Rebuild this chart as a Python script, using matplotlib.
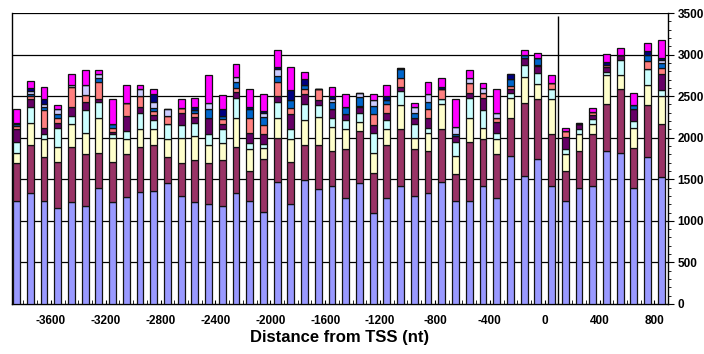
import matplotlib
matplotlib.use("Agg")
import matplotlib.pyplot as plt
import numpy as np
from matplotlib.ticker import MultipleLocator, FixedLocator

# 100-nt bins, centre positions (distance from TSS, nt)
bin_centers = np.arange(-3850, 851, 100)

s1 = [1240,1340,1240,1160,1225,1180,1400,1225,1285,1350,
      1355,1455,1295,1225,1205,1180,1340,1240,1110,1465,
      1205,1495,1385,1420,1275,1455,1090,1275,1420,1300,
      1340,1465,1240,1240,1420,1275,1775,1535,1745,1420,
      1240,1400,1420,1835,1815,1400,1765,1525]
s2 = [455,575,525,545,660,625,415,480,520,535,
      560,315,400,510,490,555,545,355,630,530,
      500,420,530,415,595,620,490,640,685,565,
      495,645,325,705,560,530,460,885,720,620,
      355,435,620,565,765,480,630,645]
s3 = [120,260,215,180,275,255,420,290,175,225,
      190,210,300,280,220,200,355,275,140,240,
      275,300,340,290,235,120,240,190,290,135,
      220,290,210,290,140,180,240,310,185,420,
      210,210,120,355,170,240,240,335]
s4 = [135,190,60,235,100,275,190,50,100,190,
      110,180,160,160,130,170,235,70,50,195,
      125,195,140,115,105,100,235,110,170,165,
      60,70,175,240,215,70,60,150,130,120,
      65,65,70,30,180,85,195,70]
s5 = [155,95,80,55,110,100,40,25,180,70,
      60,0,140,70,195,55,70,120,115,75,
      175,120,60,100,75,70,100,80,40,70,
      120,0,70,60,140,140,50,80,80,0,
      140,50,40,60,70,135,0,195]
s6 = [40,40,215,60,240,80,200,50,160,130,
      50,100,60,50,0,60,50,180,110,160,
      80,50,130,0,0,20,130,115,110,0,
      110,110,0,120,60,40,40,0,20,75,
      70,0,40,30,0,0,95,70]
s7 = [15,30,30,50,0,0,50,40,0,0,
      30,0,0,40,100,40,80,100,90,80,
      95,60,0,90,80,110,95,45,110,60,
      80,0,30,0,0,0,80,40,80,0,
      0,0,0,0,0,55,70,60]
s8 = [10,30,40,55,30,120,50,0,0,80,
      70,80,0,0,75,0,50,0,50,80,
      0,0,0,30,0,40,75,0,0,70,
      95,0,80,60,60,60,0,0,0,0,
      0,0,0,0,0,0,0,30]
s9 = [10,40,55,10,0,0,0,0,0,0,
      105,0,0,30,0,80,0,30,30,25,
      120,70,0,40,0,0,0,50,10,0,
      0,30,0,0,0,0,65,0,0,0,
      0,20,0,30,0,0,50,30]
s10 = [170,80,145,45,130,180,50,310,220,60,
       60,0,110,110,340,170,160,220,200,210,
       275,80,0,110,160,0,70,130,0,50,
       155,110,340,100,60,295,0,60,60,100,
       40,0,50,100,80,140,90,215]

series = [s1, s2, s3, s4, s5, s6, s7, s8, s9, s10]
colors = ['#9999FF', '#993366', '#FFFFCC', '#CCFFFF', '#660066',
          '#FF8080', '#0066CC', '#CCCCFF', '#000080', '#FF00FF']

xtick_values = [-3600, -3200, -2800, -2400, -2000, -1600, -1200,
                -800, -400, 0, 400, 800]
ytick_values = [0, 500, 1000, 1500, 2000, 2500, 3000, 3500]
marker_pos = 100  # vertical reference line

tick_font = ['Liberation Sans Narrow', 'Liberation Sans', 'DejaVu Sans']
label_font = ['Liberation Sans', 'DejaVu Sans']

fig = plt.figure(figsize=(7.04, 3.54), dpi=100)
ax = fig.add_axes([12/704, 50/354, (668-12)/704, (304-13)/354])

bottom = np.zeros(len(bin_centers))
for vals, col in zip(series, colors):
    v = np.array(vals, dtype=float)
    ax.bar(bin_centers, v, width=50, bottom=bottom, color=col,
           edgecolor='#111111', linewidth=0.9, zorder=3)
    bottom += v

ax.vlines(marker_pos, 0, 3460, color='black', linewidth=1.0, zorder=4)

ax.set_xlim(-3883, 899)
ax.set_ylim(0, 3500)

for yv in ytick_values[1:]:
    ax.axhline(yv, color='black', linewidth=0.9, zorder=1)

ax.spines['top'].set_visible(False)
for sp in ['left', 'right', 'bottom']:
    ax.spines[sp].set_color('black')
    ax.spines[sp].set_linewidth(1.0)

ax.yaxis.tick_right()
ax.yaxis.set_major_locator(FixedLocator(ytick_values))
ax.yaxis.set_minor_locator(MultipleLocator(100))
ax.tick_params(axis='y', which='major', direction='out', length=4, width=0.8, pad=3)
ax.tick_params(axis='y', which='minor', direction='out', length=2, width=0.6)
ax.tick_params(axis='y', left=False, which='both')

ax.xaxis.set_major_locator(FixedLocator(xtick_values))
ax.xaxis.set_minor_locator(MultipleLocator(50))
ax.tick_params(axis='x', which='major', direction='in', length=3, width=0.8, pad=8)
ax.tick_params(axis='x', which='minor', direction='in', length=3, width=0.6)

ax.set_xticklabels([str(v) for v in xtick_values])
for lab in ax.get_xticklabels() + ax.get_yticklabels():
    lab.set_fontfamily(tick_font)
    lab.set_fontweight('bold')
    lab.set_fontsize(8.5)

ax.set_xlabel('Distance from TSS (nt)', fontfamily=label_font,
              fontweight='bold', fontsize=12, labelpad=2)

fig.savefig('out.png', dpi=100)
